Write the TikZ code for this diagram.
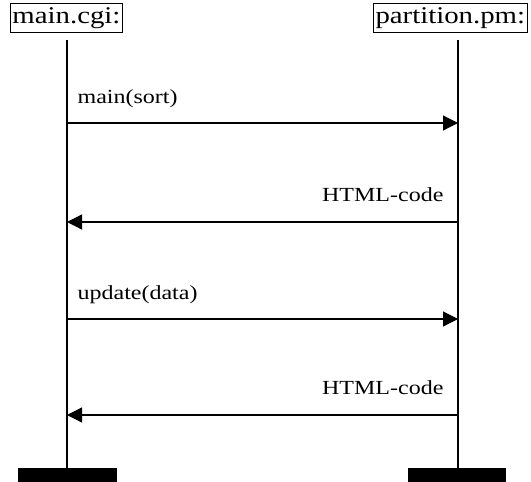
\documentclass[tikz,border=0pt]{standalone}
\usepackage{fontspec}
\setmainfont{Liberation Serif}
\newfontfamily\widefont[FakeStretch=1.2]{Liberation Serif}
\usetikzlibrary{arrows.meta}

\tikzset{
	obj/.style={draw, line width=1pt, inner sep=2pt, minimum height=29pt, font=\widefont\fontsize{24}{26}\selectfont},
	msg/.style={font=\widefont\fontsize{20}{22}\selectfont, inner sep=0pt},
	bar/.style={fill=black, draw=none}
}

\begin{document}
\begin{tikzpicture}[x=1pt, y=-1pt, line width=1.2pt, arrows={-Triangle[length=15pt,width=15pt]}]
	\useasboundingbox (0,0) rectangle (531,482);

	\node[obj, anchor=north west] (M) at (10,3) {main.cgi:};
	\node[obj, anchor=north west] (P) at (373,3) {partition.pm:};

	\coordinate (Mtop) at (67,40);
	\coordinate (Mbot) at (67,469);
	\coordinate (Ptop) at (458,40);
	\coordinate (Pbot) at (458,469);
	\draw[-] (Mtop) -- (Mbot);
	\draw[-] (Ptop) -- (Pbot);

	\fill[bar] (18,468) rectangle (117,490);
	\fill[bar] (408,468) rectangle (506,490);

	\coordinate (M1) at (67,123);  \coordinate (P1) at (458,123);
	\coordinate (M2) at (67,222);  \coordinate (P2) at (458,222);
	\coordinate (M3) at (67,319);  \coordinate (P3) at (458,319);
	\coordinate (M4) at (67,415);  \coordinate (P4) at (458,415);

	\draw (M1) to node[msg, at start, anchor=base west, xshift=10pt, yshift=20pt] {main(sort)} (P1);
	\draw (P2) to node[msg, at start, anchor=base east, xshift=-14pt, yshift=21pt] {HTML-code} (M2);
	\draw (M3) to node[msg, at start, anchor=base west, xshift=10pt, yshift=20pt] {update(data)} (P3);
	\draw (P4) to node[msg, at start, anchor=base east, xshift=-14pt, yshift=21pt] {HTML-code} (M4);
\end{tikzpicture}
\end{document}
